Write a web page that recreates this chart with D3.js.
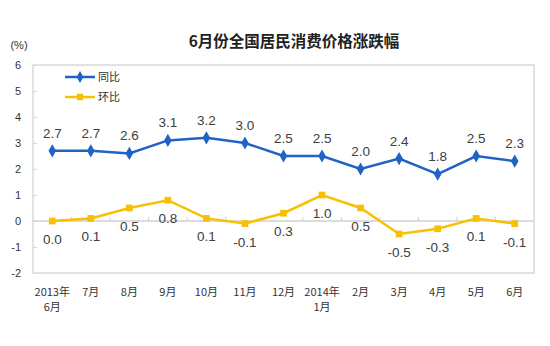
<!DOCTYPE html>
<html>
<head>
<meta charset="utf-8">
<script src="https://cdn.jsdelivr.net/npm/d3@7"></script>
<style>
  body { margin: 0; background: #fff; }
  text { font-family: "Liberation Sans", Arial, "Noto Sans CJK SC", sans-serif; }
</style>
</head>
<body>
<div id="chart"></div>
<script>
const categories = ['2013年|6月', '7月', '8月', '9月', '10月', '11月', '12月', '2014年|1月', '2月', '3月', '4月', '5月', '6月'];
const yoy = [2.7, 2.7, 2.6, 3.1, 3.2, 3.0, 2.5, 2.5, 2.0, 2.4, 1.8, 2.5, 2.3];   // 同比
const mom = [0.0, 0.1, 0.5, 0.8, 0.1, -0.1, 0.3, 1.0, 0.5, -0.5, -0.3, 0.1, -0.1]; // 环比
const yTicks = [-2, -1, 0, 1, 2, 3, 4, 5, 6];

const W = 550, H = 346;
const m = {left: 33, right: 16, top: 65, bottom: 73};

// plain hyphen for negatives, like the source chart
const fmt1 = d => d3.format('.1f')(d).replace('\u2212', '-');
const fmt0 = d => String(d);

const svg = d3.select('#chart').append('svg').attr('width', W).attr('height', H);

const x = d3.scaleBand().domain(d3.range(categories.length)).range([m.left, W - m.right]);
const y = d3.scaleLinear().domain([-2, 6]).range([H - m.bottom, m.top]);
const cx = i => x(i) + x.bandwidth() / 2;

// title
svg.append('text').attr('x', 294).attr('y', 47).attr('text-anchor', 'middle')
  .attr('font-size', 15.5).attr('font-weight', 'bold').attr('fill', '#222')
  .style('font-family', '"Noto Sans CJK SC", sans-serif')
  .text('6月份全国居民消费价格涨跌幅');

svg.append('text').attr('x', 19).attr('y', 49).attr('text-anchor', 'middle')
  .attr('font-size', 11).attr('fill', '#333').text('(%)');

// frame
svg.append('rect').attr('x', m.left).attr('y', m.top)
  .attr('width', W - m.left - m.right).attr('height', H - m.top - m.bottom)
  .attr('fill', 'none').attr('stroke', '#d9d9d9').attr('stroke-width', 1.5);

// y axis
const yAxis = svg.append('g').attr('transform', `translate(${m.left},0)`)
  .call(d3.axisLeft(y).tickValues(yTicks).tickSize(-4).tickPadding(12).tickFormat(fmt0));
yAxis.select('.domain').remove();
yAxis.selectAll('line').attr('stroke', '#d9d9d9');
yAxis.selectAll('text').attr('font-size', 11).attr('fill', '#333')
  .style('font-family', '"Liberation Sans", Arial, sans-serif');

// zero line with category ticks
svg.append('line').attr('x1', m.left).attr('x2', W - m.right)
  .attr('y1', y(0)).attr('y2', y(0)).attr('stroke', '#d0d0d0').attr('stroke-width', 1.5);
svg.append('g').selectAll('line').data(d3.range(1, categories.length)).join('line')
  .attr('x1', i => x(i)).attr('x2', i => x(i))
  .attr('y1', y(0) - 4).attr('y2', y(0))
  .attr('stroke', '#d0d0d0');

// x labels
const xl = svg.append('g').selectAll('text').data(categories).join('text')
  .attr('x', (d, i) => cx(i)).attr('y', 296).attr('text-anchor', 'middle')
  .attr('font-size', 11).attr('fill', '#333')
  .style('font-family', '"Noto Sans CJK SC", sans-serif');
xl.selectAll('tspan').data(d => d.split('|')).join('tspan')
  .attr('x', function() { return this.parentNode.getAttribute('x'); })
  .attr('dy', (d, i) => i ? 15 : 0).text(d => d);

const line = d3.line().x((d, i) => cx(i)).y(d => y(d));

// series
const series = [
  {name: '同比', data: yoy, color: '#1f63c6', shape: d3.symbolDiamond, dy: -13},
  {name: '环比', data: mom, color: '#f8c000', shape: d3.symbolSquare, dy: 23}
];

series.forEach(s => {
  svg.append('path').datum(s.data).attr('d', line)
    .attr('fill', 'none').attr('stroke', s.color).attr('stroke-width', 2.5);
  svg.append('g').selectAll('path').data(s.data).join('path')
    .attr('d', d3.symbol().type(s.shape).size(s.shape === d3.symbolSquare ? 45 : 50))
    .attr('transform', (d, i) => `translate(${cx(i)},${y(d)})`)
    .attr('fill', s.color);
  svg.append('g').selectAll('text').data(s.data).join('text')
    .attr('x', (d, i) => cx(i)).attr('y', d => y(d) + s.dy)
    .attr('text-anchor', 'middle').attr('font-size', 13.5).attr('fill', '#404040')
    .text(fmt1);
});

// legend
const lg = svg.append('g').selectAll('g').data(series).join('g')
  .attr('transform', (d, i) => `translate(65,${77 + i * 20})`);
lg.append('line').attr('x1', 0).attr('x2', 30).attr('stroke', d => d.color).attr('stroke-width', 2.5);
lg.append('path').attr('transform', 'translate(15,0)')
  .attr('d', d => d3.symbol().type(d.shape).size(40)())
  .attr('fill', d => d.color);
lg.append('text').attr('x', 33).attr('y', 4).attr('font-size', 11).attr('fill', '#333')
  .style('font-family', '"Noto Sans CJK SC", sans-serif')
  .text(d => d.name);
</script>
</body>
</html>
